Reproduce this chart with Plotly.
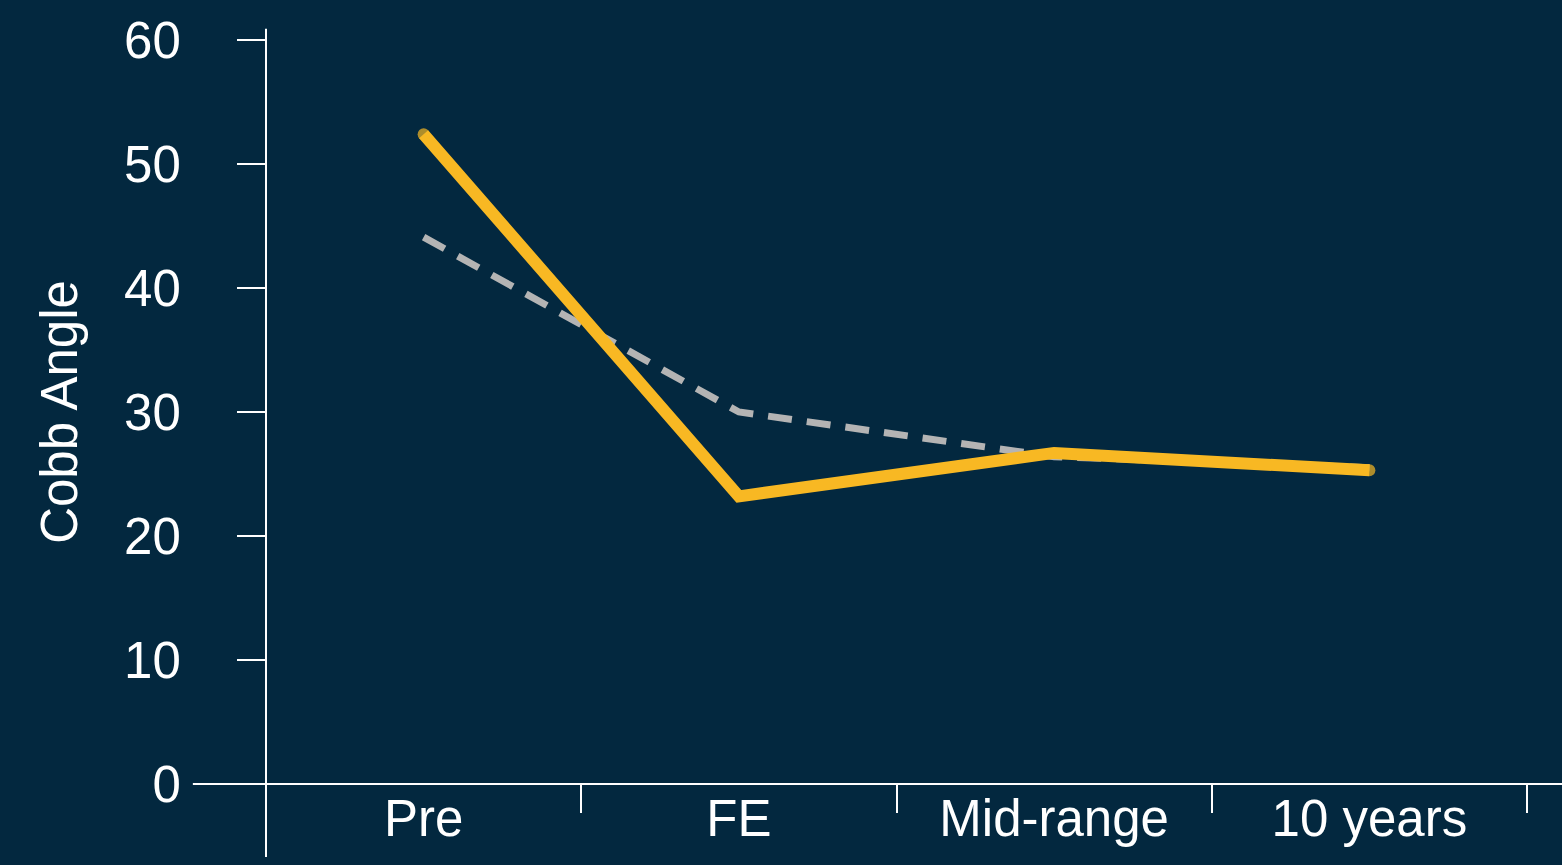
import plotly.graph_objects as go

categories = ["Pre", "FE", "Mid-range", "10 years"]
series_solid = [52.4, 23.2, 26.7, 25.3]
series_dashed = [44.1, 30.0, 26.4, 25.5]
y_ticks = [0, 10, 20, 30, 40, 50, 60]

BG = "#03283F"
YELLOW = "#F8B823"
GREY = "#B4B4B4"
WHITE = "#FFFFFF"
FONT = "Liberation Sans, Arial, sans-serif"

fig = go.Figure()
fig.add_trace(go.Scatter(x=categories, y=series_dashed, mode="lines",
                         line=dict(color=GREY, width=7, dash="24px,15px"),
                         showlegend=False, hoverinfo="skip"))
fig.add_trace(go.Scatter(x=categories, y=series_solid, mode="lines+markers",
                         line=dict(color=YELLOW, width=12),
                         marker=dict(color=YELLOW, size=[12, 0, 0, 12], line=dict(width=0)),
                         showlegend=False, hoverinfo="skip"))

fig.update_layout(
    width=1562, height=865,
    paper_bgcolor=BG, plot_bgcolor=BG,
    margin=dict(l=266, r=35, t=31, b=81),
    font=dict(family=FONT, color=WHITE, size=51),
    showlegend=False,
)
fig.update_xaxes(
    type="category", range=[-0.5, 3.5],
    showgrid=False, zeroline=False, showline=False,
    ticks="outside", tickson="boundaries", ticklen=28, tickwidth=2, tickcolor=WHITE,
    tickfont=dict(size=51, color=WHITE), ticklabelstandoff=0,
)
fig.update_yaxes(
    range=[0, 60], tickvals=y_ticks,
    showgrid=False, zeroline=False, showline=False,
    ticks="outside", ticklen=28, tickwidth=2, tickcolor=WHITE,
    tickfont=dict(size=51, color=WHITE), ticklabelstandoff=46,
    title=dict(text="Cobb Angle", font=dict(size=51, color=WHITE), standoff=30),
)
# extended axis lines (Excel style)
fig.add_shape(type="line", xref="x domain", yref="y domain",
              x0=0, x1=0, y0=-0.098, y1=1.015, line=dict(color=WHITE, width=2))
fig.add_shape(type="line", xref="x domain", yref="y domain",
              x0=-0.058, x1=1.03, y0=0, y1=0, line=dict(color=WHITE, width=2))

fig.write_html("out.html", config={"displayModeBar": False},
               post_script="document.body.style.margin='0';document.body.style.background='" + BG + "';")
